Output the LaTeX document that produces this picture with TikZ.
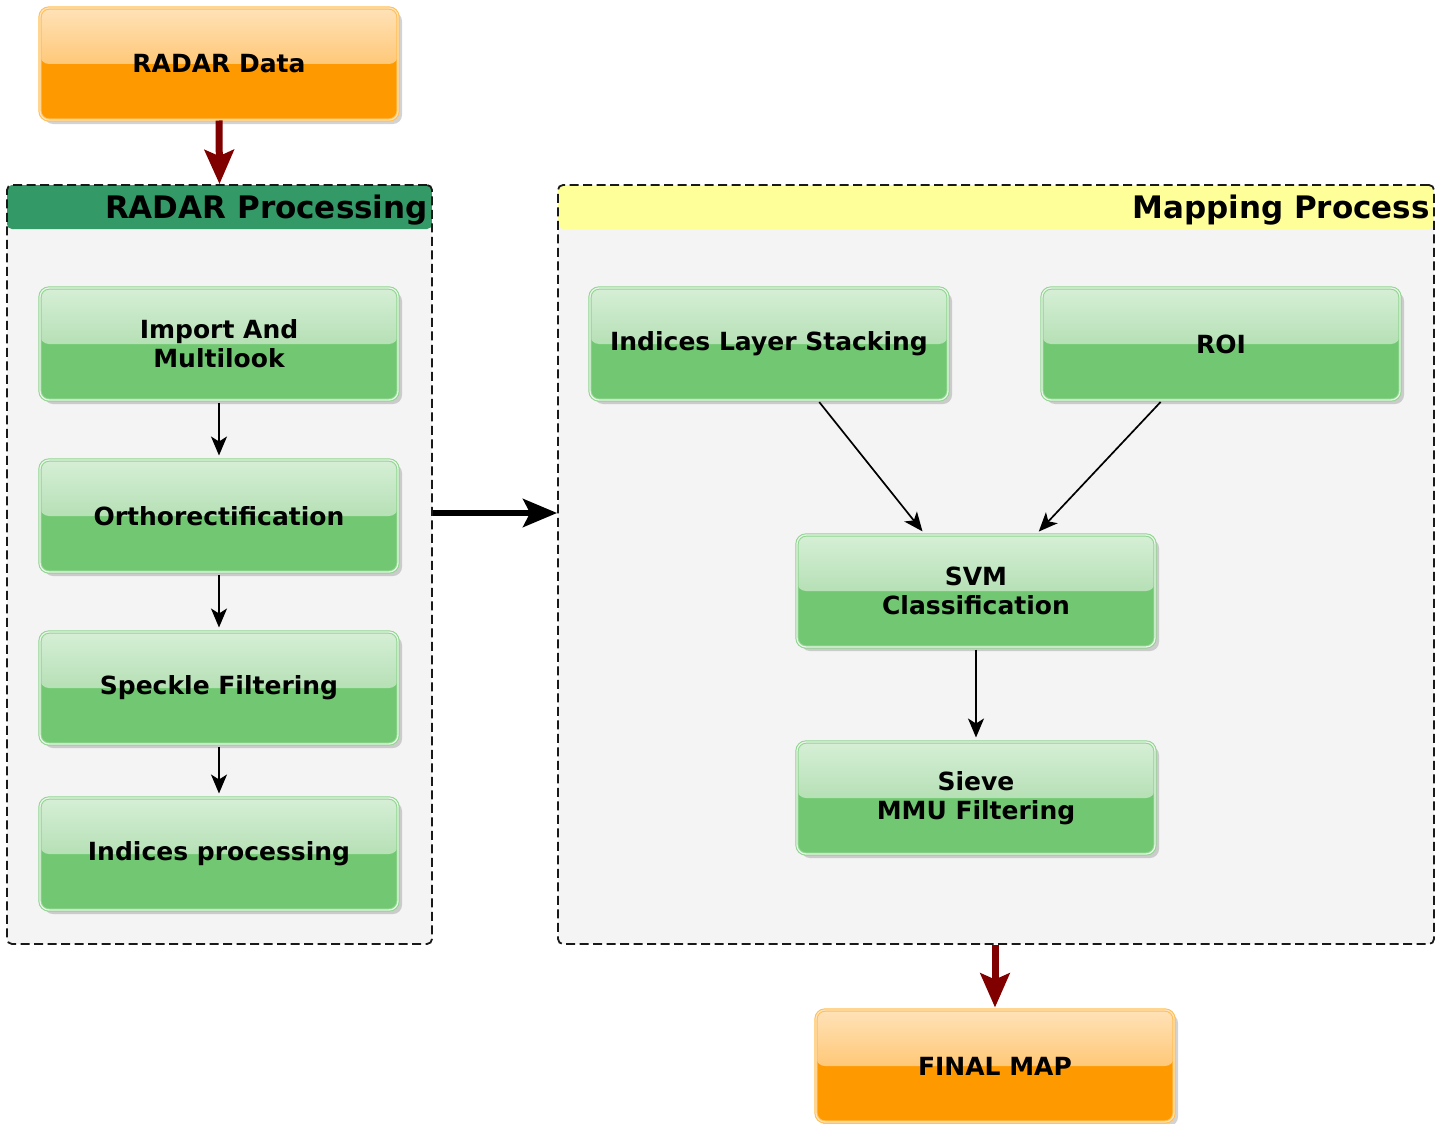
\documentclass[tikz,border=0pt]{standalone}
\usepackage{fontspec}
\setmainfont{DejaVu Sans}
\usetikzlibrary{arrows.meta,shadows,calc}
\definecolor{orbot}{HTML}{FF9900}
\definecolor{ortop}{HTML}{FFE2B8}
\definecolor{ormid}{HTML}{FFC878}
\definecolor{orline}{HTML}{FFBE55}
\definecolor{grbot}{HTML}{72C872}
\definecolor{grtop}{HTML}{D6EFD6}
\definecolor{grmid}{HTML}{B6E0B6}
\definecolor{grline}{HTML}{90D490}
\definecolor{hdrgreen}{HTML}{339966}
\definecolor{hdryellow}{HTML}{FFFF99}
\definecolor{bodygray}{HTML}{F4F4F4}
\definecolor{darkred}{HTML}{800000}
\tikzset{
  boxbase/.style={rounded corners=9pt, minimum width=358pt, minimum height=112pt,
    inner sep=0pt, align=center, font=\fontsize{25}{29}\selectfont\bfseries,
    line width=1pt, double distance=1.3pt,
    drop shadow={opacity=0.35, shadow xshift=4pt, shadow yshift=-4pt}},
  greenbox/.style={boxbase, draw=grline, double=grtop!60!white,
    path picture={
      \fill[grbot] (path picture bounding box.south west) rectangle (path picture bounding box.north east);
      \shade[top color=grtop, bottom color=grmid] (path picture bounding box.north west) rectangle (path picture bounding box.east);
    }},
  orangebox/.style={boxbase, draw=orline, double=ortop,
    path picture={
      \fill[orbot] (path picture bounding box.south west) rectangle (path picture bounding box.north east);
      \shade[top color=ortop, bottom color=ormid] (path picture bounding box.north west) rectangle (path picture bounding box.east);
    }},
  container/.style={draw=black!90, dash pattern=on 9pt off 4.5pt, line width=1.8pt,
    rounded corners=5pt, fill=bodygray, inner sep=0pt,
    path picture={
      \fill[#1] (path picture bounding box.north west) rectangle ([yshift=-44pt]path picture bounding box.north east);
    }},
  thinarrow/.style={-{Stealth[length=19pt,width=16pt,inset=5pt]}, line width=1.7pt, black},
  bigarrow/.style={-{Stealth[length=34pt,width=28pt,inset=7pt]}, line width=6pt, black},
  redarrow/.style={-{Stealth[length=34pt,width=29pt,inset=6pt]}, line width=7pt, darkred},
  titlefont/.style={font=\fontsize{31}{36}\selectfont\bfseries, inner sep=0pt}
}
\begin{document}
\begin{tikzpicture}[x=1pt,y=-1pt]
\useasboundingbox (0,0) rectangle (1441,1124);

% containers
\node[container=hdrgreen, minimum width=425pt, minimum height=759pt] (radproc) at (219.5,564.5) {};
\node[container=hdryellow, minimum width=876pt, minimum height=759pt] (mapproc) at (996,564.5) {};
\node[titlefont, anchor=east] (radtitle) at (428,210) {RADAR Processing};
\node[titlefont, anchor=east] (maptitle) at (1430,210) {Mapping Process};

% top and bottom
\node[orangebox] (radar) at (219,64) {RADAR Data};
\node[orangebox] (final) at (995,1066) {FINAL MAP};

% left column
\node[greenbox] (import) at (219,344) {Import And\\Multilook};
\node[greenbox] (ortho) at (219,516) {Orthorectification};
\node[greenbox] (speckle) at (219,688) {Speckle Filtering};
\node[greenbox] (indices) at (219,854) {Indices processing};

% right
\node[greenbox] (ils) at (769,344) {Indices Layer Stacking};
\node[greenbox] (roi) at (1221,344) {ROI};
\node[greenbox] (svm) at (976,591) {SVM\\Classification};
\node[greenbox] (sieve) at (976,798) {Sieve\\MMU Filtering};

% arrows
\draw[redarrow] (radar.south) -- (radproc.north);
\draw[redarrow] (final.north |- mapproc.south) -- ([yshift=2pt]final.north);
\draw[thinarrow, shorten <=2pt, shorten >=4pt] (import) -- (ortho);
\draw[thinarrow, shorten <=2pt, shorten >=4pt] (ortho) -- (speckle);
\draw[thinarrow, shorten <=2pt, shorten >=4pt] (speckle) -- (indices);
\draw[bigarrow] (radproc.east |- ortho.center) ++(0,-3) coordinate (bigstart) -- (mapproc.west |- bigstart);
\draw[thinarrow, shorten <=2pt, shorten >=4pt] ([xshift=49pt]ils.south) -- ([xshift=-51pt]svm.north);
\draw[thinarrow, shorten <=2pt, shorten >=4pt] ([xshift=-59pt]roi.south) -- ([xshift=60pt]svm.north);
\draw[thinarrow, shorten <=2pt, shorten >=4pt] (svm) -- (sieve);
\end{tikzpicture}
\end{document}
